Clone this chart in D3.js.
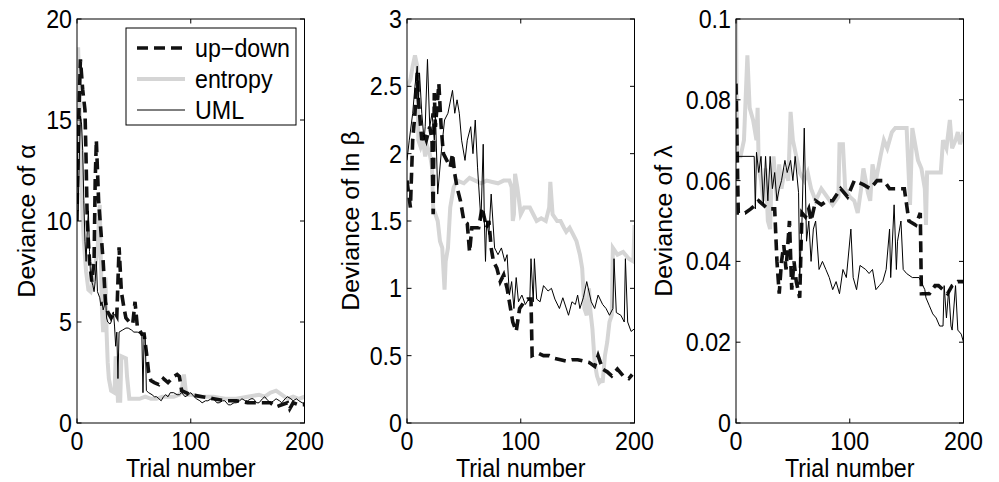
<!DOCTYPE html>
<html>
<head>
<meta charset="utf-8">
<script src="https://cdn.jsdelivr.net/npm/d3@7"></script>
<style>
  body { margin: 0; background: #fff; }
  svg text { font-family: "Liberation Sans", Arial, Helvetica, sans-serif; fill: #000; }
</style>
</head>
<body>
<div id="chart"></div>
<script>
// trial numbers on x, deviance values on y
const seriesNames = ['up\u2212down', 'entropy', 'UML'];

const upDownA = [[0,10],[1,14],[3,18],[5,16.5],[7,15.5],[8,13],[9,10],[11,8],[13,7],[15,8],[16,12],[17,14],[19,11],[21,9.5],[23,8],[25,6],[27,5.5],[30,5.2],[33,5.5],[35,5.3],[37,8.7],[39,6.5],[41,5.8],[43,5.2],[46,5.0],[49,4.9],[51,6.0],[53,4.8],[57,4.4],[59,4.4],[61,3.5],[63,2.5],[65,2.1],[68,2.0],[72,1.9],[76,2.2],[80,2.0],[85,2.3],[88,2.4],[90,2.3],[92,1.6],[100,1.4],[110,1.3],[120,1.2],[130,1.1],[140,1.1],[150,1.0],[160,1.0],[170,1.0],[175,0.8],[180,0.9],[185,1.0],[187,0.7],[190,1.0],[195,0.9],[200,0.9]];
const entropyA = [[0,13],[1,18.6],[2,16.5],[3,14],[4,12],[5,10],[6,9],[8,7.5],[10,6.6],[12,6.5],[14,7],[16,7.8],[18,8.5],[20,10.8],[21,8],[22,5.5],[23,4.5],[24,6],[25,7.2],[26,4.5],[27,3],[28,2.2],[30,1.6],[33,1.5],[34,3.3],[35,2.5],[36,1.1],[38,1.1],[39,3.3],[43,3.2],[44,2.3],[46,1.2],[50,1.2],[55,1.2],[60,1.3],[65,1.2],[70,1.2],[75,1.3],[80,1.3],[85,1.3],[90,1.4],[92,1.6],[94,2.4],[96,1.4],[100,1.4],[110,1.3],[120,1.3],[130,1.2],[140,1.2],[150,1.3],[160,1.4],[165,1.3],[170,1.5],[175,1.6],[180,1.4],[185,1.2],[190,1.3],[195,1.2],[200,1.3]];
const umlA = [[0,14.8],[1,10.5],[2,13],[3,15.2],[4,14.8],[5,13.5],[6,11],[7,9],[8,8],[9,9.5],[10,10.5],[11,8.5],[12,7.2],[14,6.8],[15,6.5],[16,7],[17,8],[18,6.5],[20,6.2],[21,5.8],[22,6],[23,5.6],[24,5.8],[25,6.3],[26,5.2],[27,5.0],[29,4.9],[30,5.0],[31,5.4],[32,5.5],[33,4.8],[34,3.8],[35,4.5],[36,2.2],[37,4.5],[40,4.6],[43,4.7],[45,4.7],[48,4.6],[50,4.5],[53,4.5],[57,4.4],[58,1.5],[59,4.3],[60,4.3],[61,1.6],[63,1.5],[66,1.4],[68,1.3],[70,1.3],[72,1.2],[74,1.1],[76,1.3],[78,1.4],[80,1.3],[82,1.5],[85,1.5],[88,1.4],[90,1.4],[92,1.5],[95,1.3],[98,1.4],[100,1.5],[103,1.3],[105,1.2],[108,1.1],[110,1.0],[113,1.1],[115,1.1],[118,1.2],[120,1.2],[123,1.0],[125,1.0],[128,1.1],[130,1.1],[133,0.9],[135,0.9],[138,1.0],[140,1.0],[143,1.1],[145,1.2],[148,1.1],[150,1.1],[153,1.2],[155,1.2],[158,1.0],[160,1.0],[163,1.2],[165,1.3],[168,1.1],[170,1.0],[173,1.1],[175,1.2],[178,1.1],[180,1.0],[183,1.2],[185,1.3],[188,1.2],[190,1.1],[193,1.2],[195,1.1],[198,1.0],[200,1.0]];

const upDownB = [[0,1.8],[3,1.6],[4,1.85],[5,2.1],[7,2.3],[9,2.6],[10,2.4],[13,2.1],[15,2.15],[17,2.1],[20,2.2],[22,2.1],[23,1.55],[24,2.45],[25,2.2],[28,2.52],[30,2.2],[32,2.0],[35,1.95],[38,1.9],[40,2.0],[42,1.85],[44,1.75],[47,1.65],[50,1.5],[53,1.48],[55,1.27],[57,1.45],[60,1.45],[63,1.45],[66,1.6],[70,1.45],[72,1.5],[74,1.3],[76,1.2],[79,1.15],[82,1.05],[85,1.1],[88,1.0],[90,0.9],[93,0.75],[96,0.68],[99,0.85],[103,0.9],[106,0.92],[109,0.92],[110,0.5],[115,0.52],[120,0.5],[125,0.5],[130,0.48],[135,0.47],[140,0.46],[145,0.47],[150,0.47],[155,0.46],[160,0.45],[165,0.42],[168,0.5],[172,0.4],[176,0.38],[180,0.35],[185,0.4],[190,0.35],[195,0.33],[198,0.36]];
const entropyB = [[0,2.5],[3,2.55],[5,2.65],[7,2.73],[9,2.65],[10,2.1],[12,2.05],[14,2.1],[16,1.98],[18,2.05],[20,2.0],[22,1.9],[23,1.6],[25,1.55],[27,1.5],[29,1.35],[31,1.3],[33,0.99],[34,1.2],[36,1.3],[38,1.6],[41,1.75],[44,1.8],[50,1.78],[55,1.82],[60,1.8],[65,1.78],[70,1.8],[75,1.79],[80,1.78],[85,1.8],[90,1.8],[92,1.75],[93,1.5],[94,1.55],[95,1.85],[97,1.75],[100,1.55],[103,1.6],[108,1.6],[111,1.55],[114,1.5],[118,1.52],[122,1.5],[125,1.6],[126,1.79],[128,1.55],[132,1.5],[135,1.5],[138,1.45],[140,1.42],[143,1.45],[146,1.4],[149,1.35],[152,1.25],[154,1.15],[156,0.85],[158,0.8],[160,1.0],[161,0.85],[163,0.7],[165,0.45],[167,0.35],[169,0.3],[171,0.32],[172,0.3],[174,0.5],[176,0.6],[178,0.75],[180,0.8],[181,1.3],[185,1.25],[190,1.27],[195,1.22],[199,1.2],[200,1.47]];
const umlB = [[0,1.95],[2,2.1],[5,2.3],[7,2.5],[9,2.65],[10,2.4],[11,2.6],[13,2.3],[15,2.1],[16,2.2],[18,2.7],[20,2.2],[22,2.3],[24,2.1],[25,2.3],[27,1.7],[30,2.0],[33,2.25],[36,2.3],[40,2.47],[42,2.3],[44,2.4],[46,2.3],[48,2.1],[51,1.95],[53,2.1],[56,2.2],[58,2.0],[60,2.25],[62,1.9],[65,1.5],[67,2.07],[68,1.5],[69,1.2],[70,1.5],[72,1.4],[74,1.7],[77,1.3],[80,1.25],[83,1.3],[86,1.2],[88,1.25],[90,0.95],[92,1.05],[94,0.85],[96,1.08],[98,0.9],[101,0.95],[104,0.88],[107,0.92],[108,0.92],[109,1.22],[111,0.9],[112,1.22],[114,0.92],[117,0.9],[120,1.02],[124,0.98],[127,1.0],[130,0.92],[134,0.85],[137,0.93],[142,0.8],[145,0.9],[148,0.88],[150,0.95],[152,0.85],[155,0.93],[158,1.05],[162,0.9],[165,0.85],[168,0.95],[172,0.88],[175,0.85],[178,0.8],[181,0.85],[182,1.22],[184,0.82],[188,0.8],[191,0.75],[192,1.22],[194,0.75],[197,0.68],[200,0.7]];

const upDownL = [[0,0.084],[2,0.052],[8,0.052],[13,0.053],[17,0.054],[20,0.055],[24,0.054],[28,0.053],[34,0.053],[36,0.04],[38,0.032],[40,0.04],[42,0.044],[44,0.038],[47,0.05],[49,0.033],[51,0.04],[53,0.035],[56,0.031],[58,0.052],[61,0.051],[64,0.053],[66,0.05],[70,0.055],[75,0.054],[80,0.055],[85,0.055],[92,0.058],[98,0.056],[104,0.06],[112,0.059],[118,0.058],[124,0.06],[130,0.06],[135,0.058],[148,0.058],[152,0.05],[158,0.049],[162,0.052],[163,0.032],[170,0.032],[175,0.034],[178,0.034],[182,0.033],[186,0.032],[190,0.034],[195,0.035],[200,0.035]];
const entropyL = [[0,0.1],[1,0.066],[4,0.066],[7,0.07],[10,0.091],[12,0.078],[15,0.075],[18,0.07],[19,0.078],[20,0.063],[22,0.06],[24,0.055],[26,0.063],[28,0.05],[30,0.048],[31,0.058],[33,0.066],[36,0.055],[38,0.064],[40,0.058],[43,0.063],[46,0.06],[48,0.077],[50,0.07],[53,0.066],[56,0.062],[60,0.06],[63,0.062],[66,0.058],[70,0.055],[75,0.058],[80,0.056],[85,0.054],[90,0.056],[91,0.069],[94,0.069],[96,0.058],[100,0.056],[104,0.055],[107,0.052],[110,0.058],[112,0.063],[116,0.057],[118,0.055],[120,0.064],[123,0.06],[127,0.066],[130,0.07],[133,0.068],[137,0.072],[140,0.073],[150,0.073],[153,0.054],[155,0.073],[160,0.065],[163,0.063],[166,0.058],[167,0.049],[168,0.062],[175,0.062],[180,0.062],[182,0.07],[185,0.068],[188,0.075],[190,0.068],[193,0.07],[195,0.072],[197,0.069],[200,0.072]];
const umlL = [[0,0.066],[16,0.066],[17,0.053],[18,0.067],[20,0.062],[22,0.066],[24,0.054],[26,0.066],[28,0.055],[30,0.066],[32,0.058],[34,0.062],[36,0.055],[38,0.058],[40,0.06],[43,0.065],[45,0.062],[48,0.065],[50,0.06],[52,0.066],[55,0.057],[56,0.036],[58,0.05],[60,0.073],[62,0.045],[64,0.05],[66,0.04],[68,0.048],[70,0.05],[73,0.038],[76,0.04],[79,0.038],[82,0.036],[85,0.033],[88,0.035],[91,0.032],[94,0.038],[97,0.036],[101,0.048],[103,0.036],[106,0.033],[109,0.039],[114,0.038],[117,0.037],[120,0.038],[123,0.033],[126,0.034],[129,0.035],[132,0.038],[135,0.048],[136,0.036],[139,0.054],[141,0.038],[142,0.045],[145,0.05],[147,0.038],[150,0.037],[155,0.036],[161,0.036],[166,0.033],[167,0.031],[170,0.029],[173,0.027],[176,0.026],[179,0.024],[182,0.024],[183,0.034],[185,0.026],[187,0.033],[189,0.024],[190,0.023],[193,0.034],[195,0.023],[198,0.022],[200,0.02]];

const xTicks = [0, 100, 200];
const yTicksA = [0, 5, 10, 15, 20];
const yTicksB = [0, 0.5, 1, 1.5, 2, 2.5, 3];
const yTicksL = [0, 0.02, 0.04, 0.06, 0.08, 0.1];

const width = 999;
const height = 482;
const plotTop = 19, plotBottom = 423, plotW = 227.5;
const sx = 0.93; // the original text is a little narrower than it is tall

const svg = d3.select('#chart').append('svg')
  .attr('width', width)
  .attr('height', height);

const styles = [
  { stroke: '#111', width: 3.6, dash: '11,6' },
  { stroke: '#d5d5d5', width: 4, dash: null },
  { stroke: '#000', width: 1, dash: null },
];

function label(g, x, y, txt, anchor, rot) {
  return g.append('text')
    .attr('transform', `translate(${x},${y}) scale(${sx},1)` + (rot ? ' rotate(-90)' : ''))
    .attr('text-anchor', anchor)
    .style('font-size', '25px')
    .text(txt);
}

function drawPanel(p, i) {
  const xScale = d3.scaleLinear().domain([0, 200]).range([p.left, p.left + plotW]);
  const yScale = d3.scaleLinear().domain([0, p.ymax]).range([plotBottom, plotTop]);

  const g = svg.append('g');
  const clipId = 'clip' + i;
  g.append('clipPath').attr('id', clipId).append('rect')
    .attr('x', p.left).attr('y', plotTop).attr('width', plotW).attr('height', plotBottom - plotTop);

  const line = d3.line().x(d => xScale(d[0])).y(d => yScale(d[1]));
  const lines = g.append('g').attr('clip-path', `url(#${clipId})`);
  // entropy first, then up-down, then UML on top
  [1, 0, 2].forEach(k => {
    lines.append('path')
      .attr('d', line(p.series[k]))
      .attr('fill', 'none')
      .attr('stroke', styles[k].stroke)
      .attr('stroke-width', styles[k].width)
      .attr('stroke-dasharray', styles[k].dash);
  });

  // box
  g.append('rect')
    .attr('x', p.left).attr('y', plotTop).attr('width', plotW).attr('height', plotBottom - plotTop)
    .attr('fill', 'none').attr('stroke', '#000').attr('stroke-width', 1);

  // inward ticks on all four sides
  const tk = 4.5;
  xTicks.forEach(t => {
    const x = xScale(t);
    g.append('line').attr('x1', x).attr('x2', x).attr('y1', plotBottom).attr('y2', plotBottom - tk).attr('stroke', '#000');
    g.append('line').attr('x1', x).attr('x2', x).attr('y1', plotTop).attr('y2', plotTop + tk).attr('stroke', '#000');
    label(g, x, 450, d3.format('d')(t), 'middle');
  });
  p.yTicks.forEach(t => {
    const y = yScale(t);
    g.append('line').attr('x1', p.left).attr('x2', p.left + tk).attr('y1', y).attr('y2', y).attr('stroke', '#000');
    g.append('line').attr('x1', p.left + plotW).attr('x2', p.left + plotW - tk).attr('y1', y).attr('y2', y).attr('stroke', '#000');
    label(g, p.left - 5, y + 9, String(t), 'end');
  });

  label(g, p.left + plotW / 2, 477, 'Trial number', 'middle');
  label(g, p.labelX, (plotTop + plotBottom) / 2, p.ylabel, 'middle', true);
}

const panels = [
  { left: 77, ymax: 20, yTicks: yTicksA, ylabel: 'Deviance of \u03b1', labelX: 35, series: [upDownA, entropyA, umlA] },
  { left: 407, ymax: 3, yTicks: yTicksB, ylabel: 'Deviance of ln \u03b2', labelX: 359, series: [upDownB, entropyB, umlB] },
  { left: 736, ymax: 0.1, yTicks: yTicksL, ylabel: 'Deviance of \u03bb', labelX: 672, series: [upDownL, entropyL, umlL] },
];

panels.forEach(drawPanel);

// legend in the first panel
const lg = svg.append('g');
lg.append('rect')
  .attr('x', 126).attr('y', 28).attr('width', 170).attr('height', 97)
  .attr('fill', '#fff').attr('stroke', '#000').attr('stroke-width', 1);
seriesNames.forEach((name, k) => {
  const y = 48 + k * 31;
  lg.append('line')
    .attr('x1', 137).attr('x2', 185).attr('y1', y).attr('y2', y)
    .attr('stroke', styles[k].stroke)
    .attr('stroke-width', styles[k].width)
    .attr('stroke-dasharray', styles[k].dash);
  label(lg, 195, y + 9, name, 'start');
});
</script>
</body>
</html>
